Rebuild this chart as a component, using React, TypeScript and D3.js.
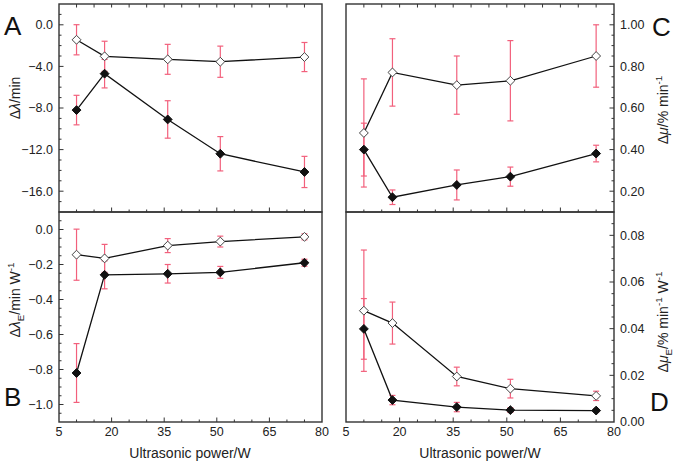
import { useEffect, useRef } from 'react';
import * as d3 from 'd3';

// ultrasonic power (W)
const power = [10, 18, 36, 51, 75];

// panel A: delta lambda / min
const aOpen = [-1.44, -3.03, -3.32, -3.55, -3.1];
const aOpenErr = [1.45, 1.45, 1.44, 1.5, 1.4];
const aFilled = [-8.2, -4.7, -9.1, -12.4, -14.15];
const aFilledErr = [1.42, 1.37, 1.8, 1.65, 1.5];

// panel B: delta lambda_E / min W-1
const bOpen = [-0.144, -0.165, -0.092, -0.069, -0.042];
const bOpenErr = [0.146, 0.08, 0.04, 0.031, 0.017];
const bFilled = [-0.82, -0.259, -0.253, -0.245, -0.19];
const bFilledErr = [0.168, 0.08, 0.053, 0.034, 0.02];

// panel C: delta mu / % min-1
const cOpen = [0.48, 0.771, 0.71, 0.731, 0.85];
const cOpenErr = [0.26, 0.162, 0.14, 0.193, 0.15];
const cFilled = [0.4, 0.171, 0.23, 0.27, 0.381];
const cFilledErr = [0.127, 0.035, 0.072, 0.046, 0.04];

// panel D: delta mu_E / % min-1 W-1
const dOpen = [0.0477, 0.0424, 0.0195, 0.0143, 0.0112];
const dOpenErr = [0.026, 0.009, 0.004, 0.004, 0.002];
const dFilled = [0.0399, 0.0094, 0.0064, 0.0051, 0.0049];
const dFilledErr = [0.013, 0.002, 0.002, 0.001, 0.0008];

const xTicks = [5, 20, 35, 50, 65, 80];

type Seg = { t: string; it?: boolean; sub?: boolean; sup?: boolean };

const FONT = 'Liberation Sans, Arial, sans-serif';
const ERR = '#f2607c';

function App() {
    const svgRef = useRef<SVGSVGElement>(null);

    useEffect(() => {
        if (!svgRef.current) return;
        const svg = d3.select(svgRef.current);
        svg.selectAll('*').remove();

        const writeSegs = (txt: any, segs: Seg[], size: number) => {
            let shift = 0;
            segs.forEach((s) => {
                const ts = txt.append('tspan').text(s.t);
                if (s.it) ts.attr('font-style', 'italic');
                let target = 0;
                if (s.sub) { ts.attr('font-size', size * 0.7); target = size * 0.3; }
                if (s.sup) { ts.attr('font-size', size * 0.7); target = -size * 0.4; }
                if (target !== shift) ts.attr('dy', target - shift);
                shift = target;
            });
        };

        const panel = (opt: {
            x0: number; x1: number; y0: number; y1: number;
            domain: [number, number]; labels: number[]; minor: number; fmt: string;
            side: 'left' | 'right'; open: number[]; openErr: number[];
            filled: number[]; filledErr: number[]; topTicks: boolean; bottomLabels: boolean;
            title: Seg[]; titleX: number; titleY: number;
            letter: string; letterX: number; letterY: number;
        }) => {
            const g = svg.append('g');
            const x = d3.scaleLinear().domain([5, 80]).range([opt.x0, opt.x1]);
            const y = d3.scaleLinear().domain(opt.domain).range([opt.y1, opt.y0]);
            const fmt = d3.format(opt.fmt);

            // y ticks (inward)
            const ax = opt.side === 'left' ? opt.x0 : opt.x1;
            const dir = opt.side === 'left' ? 1 : -1;
            const minorTicks = d3.range(opt.domain[0], opt.domain[1] + 1e-9, opt.minor)
                .filter((v) => Math.abs(v - opt.domain[0]) > 1e-9 && Math.abs(v - opt.domain[1]) > 1e-9);
            minorTicks.forEach((v) => {
                const major = opt.labels.some((l) => Math.abs(l - v) < 1e-9);
                g.append('line')
                    .attr('x1', ax).attr('x2', ax + dir * (major ? 4.5 : 2.5))
                    .attr('y1', y(v)).attr('y2', y(v))
                    .attr('stroke', '#333').attr('stroke-width', 1);
            });
            opt.labels.forEach((v) => {
                g.append('text')
                    .attr('x', opt.side === 'left' ? ax - 6 : ax + 6)
                    .attr('y', y(v))
                    .attr('dy', '0.35em')
                    .attr('text-anchor', opt.side === 'left' ? 'end' : 'start')
                    .attr('font-family', FONT).attr('font-size', 12.5).attr('fill', '#222')
                    .text(fmt(v));
            });

            // x ticks on bottom (inward, upward)
            d3.range(10, 80, 5).forEach((v) => {
                const major = xTicks.includes(v);
                g.append('line')
                    .attr('x1', x(v)).attr('x2', x(v))
                    .attr('y1', opt.y1).attr('y2', opt.y1 - (major ? 4.5 : 2.5))
                    .attr('stroke', '#333').attr('stroke-width', 1);
                if (opt.topTicks) {
                    g.append('line')
                        .attr('x1', x(v)).attr('x2', x(v))
                        .attr('y1', opt.y0).attr('y2', opt.y0 + 3.5)
                        .attr('stroke', '#333').attr('stroke-width', 1);
                }
            });
            if (opt.bottomLabels) {
                xTicks.forEach((v) => {
                    g.append('text')
                        .attr('x', x(v)).attr('y', opt.y1 + 14)
                        .attr('text-anchor', 'middle')
                        .attr('font-family', FONT).attr('font-size', 12.5).attr('fill', '#222')
                        .text(v);
                });
            }

            // error bars
            const drawErr = (vals: number[], errs: number[]) => {
                vals.forEach((v, i) => {
                    const px = x(power[i]);
                    const top = y(v + errs[i]);
                    const bot = y(v - errs[i]);
                    g.append('line').attr('x1', px).attr('x2', px).attr('y1', top).attr('y2', bot)
                        .attr('stroke', ERR).attr('stroke-width', 1.2);
                    [top, bot].forEach((yy) => {
                        g.append('line').attr('x1', px - 3).attr('x2', px + 3).attr('y1', yy).attr('y2', yy)
                            .attr('stroke', ERR).attr('stroke-width', 1.2);
                    });
                });
            };
            drawErr(opt.open, opt.openErr);
            drawErr(opt.filled, opt.filledErr);

            const line = d3.line<number>().x((_, i) => x(power[i])).y((v) => y(v));
            [opt.open, opt.filled].forEach((s) => {
                g.append('path').attr('d', line(s)).attr('fill', 'none')
                    .attr('stroke', '#111').attr('stroke-width', 1.3);
            });

            const diamond = d3.symbol().type(d3.symbolDiamond2).size(50);
            opt.open.forEach((v, i) => {
                g.append('path').attr('d', diamond())
                    .attr('transform', `translate(${x(power[i])},${y(v)})`)
                    .attr('fill', '#fff').attr('stroke', '#444').attr('stroke-width', 1);
            });
            opt.filled.forEach((v, i) => {
                g.append('path').attr('d', diamond())
                    .attr('transform', `translate(${x(power[i])},${y(v)})`)
                    .attr('fill', '#111').attr('stroke', '#111').attr('stroke-width', 1);
            });

            g.append('rect')
                .attr('x', opt.x0).attr('y', opt.y0)
                .attr('width', opt.x1 - opt.x0).attr('height', opt.y1 - opt.y0)
                .attr('fill', 'none').attr('stroke', '#333').attr('stroke-width', 1.4);

            const t = g.append('text')
                .attr('transform', `translate(${opt.titleX},${opt.titleY}) rotate(-90)`)
                .attr('text-anchor', 'middle')
                .attr('font-family', FONT).attr('font-size', 14).attr('fill', '#222');
            writeSegs(t, opt.title, 14);

            g.append('text')
                .attr('x', opt.letterX).attr('y', opt.letterY)
                .attr('font-family', FONT).attr('font-size', 26).attr('fill', '#111')
                .text(opt.letter);
        };

        panel({
            x0: 59, x1: 322, y0: 4, y1: 212, domain: [-18, 2], labels: [-16, -12, -8, -4, 0],
            minor: 1, fmt: '.1f', side: 'left', open: aOpen, openErr: aOpenErr,
            filled: aFilled, filledErr: aFilledErr, topTicks: true, bottomLabels: false,
            title: [{ t: 'Δ' }, { t: 'λ', it: true }, { t: '/min' }], titleX: 20, titleY: 98,
            letter: 'A', letterX: 4, letterY: 35,
        });
        panel({
            x0: 59, x1: 322, y0: 212, y1: 422, domain: [-1.1, 0.1], labels: [-1, -0.8, -0.6, -0.4, -0.2, 0],
            minor: 0.05, fmt: '.1f', side: 'left', open: bOpen, openErr: bOpenErr,
            filled: bFilled, filledErr: bFilledErr, topTicks: false, bottomLabels: true,
            title: [{ t: 'Δ' }, { t: 'λ', it: true }, { t: 'E', sub: true }, { t: '/min W' }, { t: '-1', sup: true }],
            titleX: 20, titleY: 300,
            letter: 'B', letterX: 4, letterY: 406,
        });
        panel({
            x0: 346, x1: 614, y0: 4, y1: 212, domain: [0.1, 1.1], labels: [0.2, 0.4, 0.6, 0.8, 1.0],
            minor: 0.05, fmt: '.2f', side: 'right', open: cOpen, openErr: cOpenErr,
            filled: cFilled, filledErr: cFilledErr, topTicks: true, bottomLabels: false,
            title: [{ t: 'Δ' }, { t: 'μ', it: true }, { t: '/% min' }, { t: '-1', sup: true }],
            titleX: 668, titleY: 110,
            letter: 'C', letterX: 652, letterY: 36,
        });
        panel({
            x0: 346, x1: 614, y0: 212, y1: 422, domain: [0, 0.09], labels: [0, 0.02, 0.04, 0.06, 0.08],
            minor: 0.005, fmt: '.2f', side: 'right', open: dOpen, openErr: dOpenErr,
            filled: dFilled, filledErr: dFilledErr, topTicks: false, bottomLabels: true,
            title: [{ t: 'Δ' }, { t: 'μ', it: true }, { t: 'E', sub: true }, { t: '/% min' }, { t: '-1', sup: true }, { t: ' W', sub: false }, { t: '-1', sup: true }],
            titleX: 668, titleY: 322,
            letter: 'D', letterX: 650, letterY: 411,
        });

        [190, 480].forEach((cx) => {
            svg.append('text')
                .attr('x', cx).attr('y', 458)
                .attr('text-anchor', 'middle')
                .attr('font-family', FONT).attr('font-size', 14).attr('fill', '#222')
                .text('Ultrasonic power/W');
        });
    }, []);

    return (
        <svg ref={svgRef} width={674} height={466}
            style={{ position: 'absolute', left: 0, top: 0, background: '#fff' }} />
    );
}

export default App;
